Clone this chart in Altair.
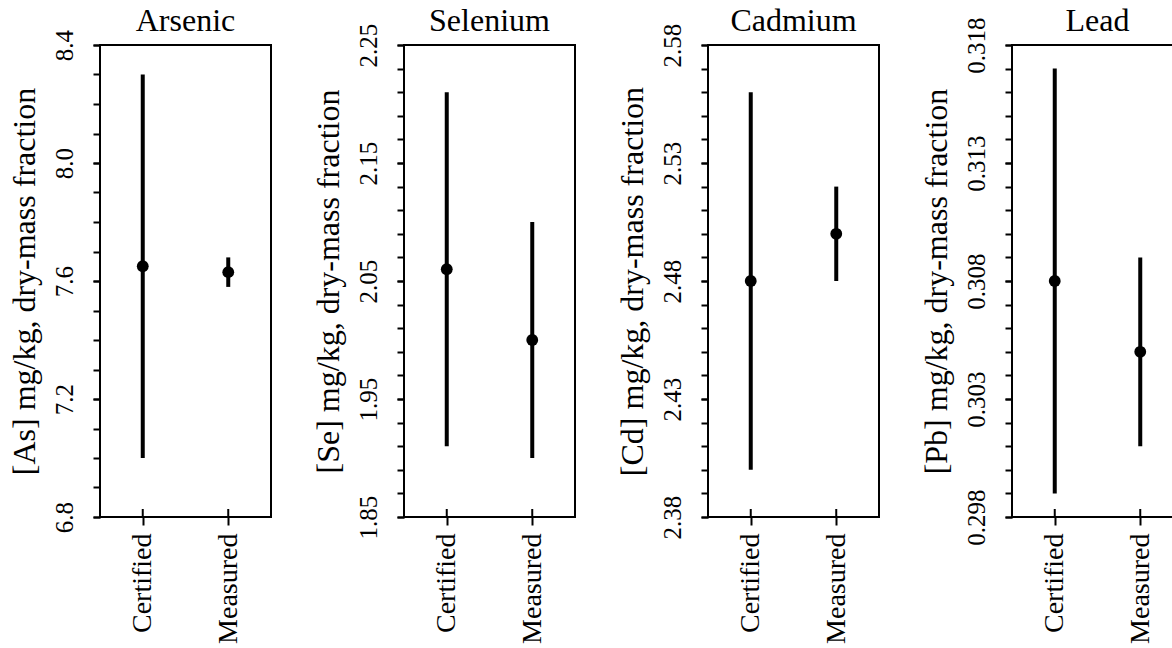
import altair as alt
import pandas as pd

FONT = "Liberation Serif"

elements = ["Arsenic", "Selenium", "Cadmium", "Lead"]
symbols = ["As", "Se", "Cd", "Pb"]
categories = ["Certified", "Measured"]

certified_value = [7.65, 2.06, 2.48, 0.308]
certified_low = [7.00, 1.91, 2.40, 0.299]
certified_high = [8.30, 2.21, 2.56, 0.317]
measured_value = [7.63, 2.00, 2.50, 0.305]
measured_low = [7.58, 1.90, 2.48, 0.301]
measured_high = [7.68, 2.10, 2.52, 0.309]

y_min = [6.8, 1.85, 2.38, 0.298]
y_max = [8.4, 2.25, 2.58, 0.318]
minor_step = [0.1, 0.02, 0.01, 0.001]
major_step = [0.4, 0.1, 0.05, 0.005]
label_formats = [".1f", ".2f", ".2f", ".3f"]
title_offsets = [-34, -40, -40, -46.5]

W, H = 171, 472


def steps(lo, hi, step):
    n = int(round((hi - lo) / step))
    return [round(lo + k * step, 4) for k in range(n + 1)]


panels = []
for i in range(4):
    df = pd.DataFrame({
        "kind": categories,
        "value": [certified_value[i], measured_value[i]],
        "low": [certified_low[i], measured_low[i]],
        "high": [certified_high[i], measured_high[i]],
    })
    yscale = alt.Scale(domain=[y_min[i], y_max[i]], nice=False, zero=False)
    xaxis = alt.Axis(
        title=None, labelAngle=270, labelAlign="right", labelBaseline="middle",
        labelFontSize=28, labelFont=FONT, labelColor="black", labelPadding=8,
        tickSize=8, tickWidth=2, tickColor="black", domain=False, grid=False,
    )
    major_axis = alt.Axis(
        orient="left", values=steps(y_min[i], y_max[i], major_step[i]),
        format=label_formats[i],
        labelAngle=270, labelAlign="center", labelBaseline="alphabetic",
        labelPadding=21, labelFontSize=25, labelFont=FONT, labelColor="black",
        labelOverlap=False, tickSize=7, tickWidth=2, tickColor="black",
        domain=False, grid=False,
        title="[" + symbols[i] + "] mg/kg,  dry-mass fraction",
        titleFont=FONT, titleFontSize=32, titleFontWeight="normal", titleColor="black",
        titleAngle=270, titleAlign="center", titleBaseline="alphabetic",
        titleX=-66, titleY=H / 2,
    )
    minor_axis = alt.Axis(
        orient="left", values=steps(y_min[i], y_max[i], minor_step[i]),
        labels=False, title=None, tickSize=7, tickWidth=2, tickColor="black",
        domain=False, grid=False,
    )
    base = alt.Chart(df)
    xenc = alt.X("kind:N", sort=categories, scale=alt.Scale(type="point", padding=0.5), axis=xaxis)
    bars = base.mark_rule(strokeWidth=4, color="black").encode(
        x=xenc, y=alt.Y("low:Q", scale=yscale, axis=major_axis), y2="high:Q"
    )
    pts = base.mark_point(filled=True, size=140, color="black", opacity=1, shape="circle").encode(
        x=alt.X("kind:N", sort=categories), y=alt.Y("value:Q", scale=yscale, axis=minor_axis)
    )
    inner = base.mark_rule(strokeWidth=2, color="black").encode(
        x=alt.X("kind:N", sort=categories), y=alt.value(H), y2=alt.value(H - 8)
    )
    panel = alt.layer(bars, pts, inner).resolve_axis(y="independent").properties(
        width=W, height=H,
        title=alt.TitleParams(
            elements[i], font=FONT, fontSize=32, fontWeight="normal", color="black",
            anchor="middle", baseline="alphabetic", offset=title_offsets[i],
        ),
    )
    panels.append(panel)

chart = (
    alt.hconcat(*panels, spacing=38)
    .properties(
        autosize=alt.AutoSizeParams(type="none"),
        padding={"left": 100, "top": 45, "right": 1072, "bottom": 601},
    )
    .configure(background="white")
    .configure_view(stroke="black", strokeWidth=2)
)

chart.save("out.html", embed_options={"renderer": "svg", "actions": False})
